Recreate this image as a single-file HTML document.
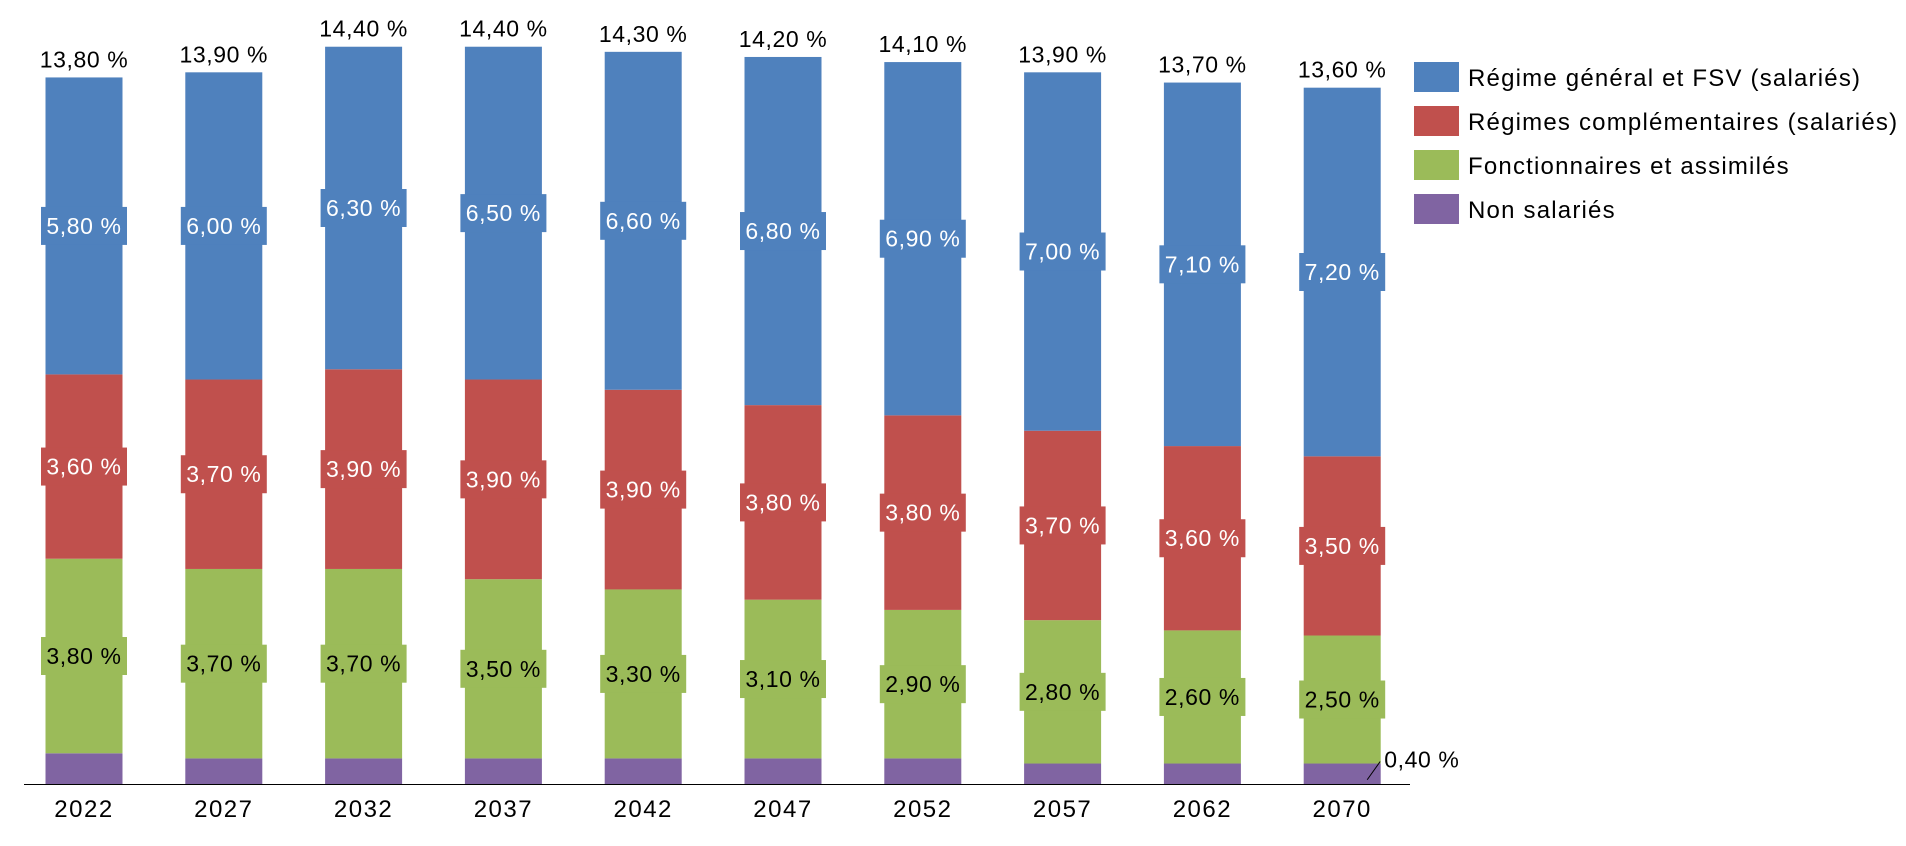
<!DOCTYPE html>
<html><head><meta charset="utf-8"><style>
body{margin:0;background:#fff;}
svg{display:block;font-family:"Liberation Sans",sans-serif;}
</style></head><body>
<svg id="chart" width="1906" height="846" viewBox="0 0 1906 846"></svg>
<script>
const categories=["2022","2027","2032","2037","2042","2047","2052","2057","2062","2070"];
const nonSalaries=[0.6,0.5,0.5,0.5,0.5,0.5,0.5,0.4,0.4,0.4];
const fonctionnaires=[3.8,3.7,3.7,3.5,3.3,3.1,2.9,2.8,2.6,2.5];
const complementaires=[3.6,3.7,3.9,3.9,3.9,3.8,3.8,3.7,3.6,3.5];
const regimeGeneral=[5.8,6.0,6.3,6.5,6.6,6.8,6.9,7.0,7.1,7.2];
const totals=[13.8,13.9,14.4,14.4,14.3,14.2,14.1,13.9,13.7,13.6];
const seriesNames=["Régime général et FSV (salariés)","Régimes complémentaires (salariés)","Fonctionnaires et assimilés","Non salariés"];

const NS="http://www.w3.org/2000/svg";
const svg=document.getElementById('chart');
const baseY=784, pxPer=51.2, x0=84, step=139.8, bw=77;
const y=v=>baseY-v*pxPer;
const xc=i=>x0+i*step;
const fmt=v=>v.toFixed(2).replace('.',',')+' %';
function el(t,a){const e=document.createElementNS(NS,t);for(const k in a)e.setAttribute(k,a[k]);svg.appendChild(e);return e;}

const stack=[
 {vals:nonSalaries,color:"#8064A2",txt:null,key:"non-salaries"},
 {vals:fonctionnaires,color:"#9BBB59",txt:"#000",key:"fonctionnaires"},
 {vals:complementaires,color:"#C0504D",txt:"#fff",key:"complementaires"},
 {vals:regimeGeneral,color:"#4F81BD",txt:"#fff",key:"regime-general"}
];
const LF={'font-size':23,'letter-spacing':0.6};
categories.forEach((c,i)=>{
  let cum=0;
  stack.forEach(s=>{
    const v=s.vals[i];
    const r=el('rect',{x:xc(i)-bw/2,y:y(cum+v),width:bw,height:v*pxPer,fill:s.color});
    
    
    if(s.txt){
      const cy=y(cum+v/2);
      const lb=el('rect',{x:xc(i)-43,y:cy-19,width:86,height:38,fill:s.color});
      
      
      const t=el('text',Object.assign({x:xc(i),y:cy+8,'text-anchor':'middle',fill:s.txt},LF));
      t.textContent=fmt(v);
      
      
    }
    cum+=v;
  });
  const tt=el('text',Object.assign({x:xc(i),y:y(totals[i])-10,'text-anchor':'middle',fill:'#000'},LF));
  tt.textContent=fmt(totals[i]);
  
  
  const yl=el('text',{x:xc(i),y:817,'text-anchor':'middle','font-size':24,'letter-spacing':1.5,fill:'#000'});
  yl.textContent=c;
  
  
});
const li=categories.length-1;
const ln=el('line',{x1:xc(li)+25,y1:y(nonSalaries[li]/2)+6,x2:xc(li)+38,y2:y(nonSalaries[li])-2,stroke:'#000','stroke-width':1});


const nl=el('text',Object.assign({x:xc(li)+42,y:y(nonSalaries[li])+4,fill:'#000'},LF));
nl.textContent=fmt(nonSalaries[li]);



const ax=el('line',{x1:24,y1:baseY+0.5,x2:1410,y2:baseY+0.5,stroke:'#000','stroke-width':1});



const legColors=["#4F81BD","#C0504D","#9BBB59","#8064A2"];
seriesNames.forEach((n,k)=>{
  const yy=62+k*44;
  const sw=el('rect',{x:1414,y:yy,width:45,height:30,fill:legColors[k]});
  
  
  const t=el('text',{x:1468,y:yy+24,'font-size':24,'letter-spacing':1.2,fill:'#000'});
  t.textContent=n;
  
  
});
</script>
</body></html>
